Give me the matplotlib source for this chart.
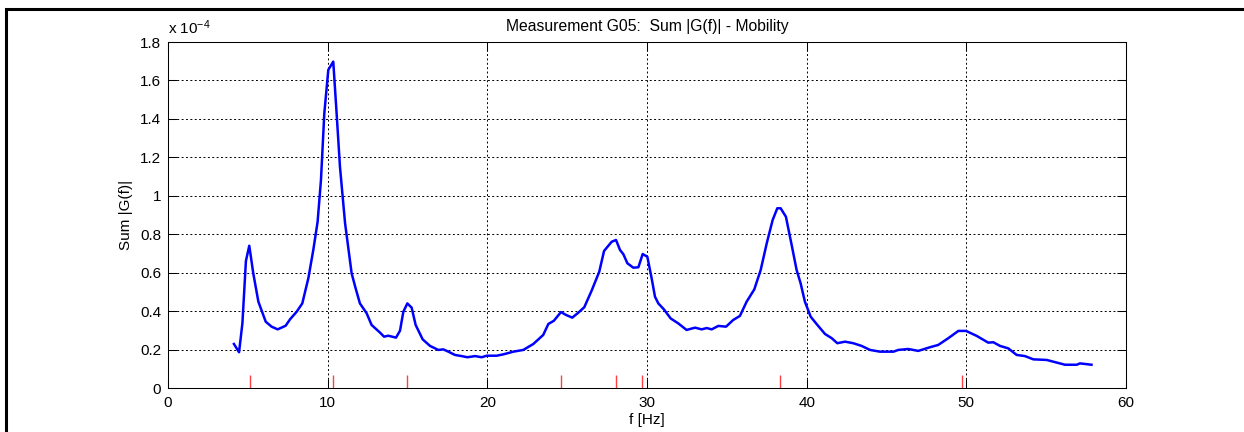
import matplotlib
matplotlib.use('Agg')
import matplotlib.pyplot as plt
from matplotlib.patches import Rectangle
from matplotlib.ticker import FuncFormatter

# frequency axis [Hz] and summed mobility magnitude (units of 1e-4)
freq = [4.13, 4.45, 4.66, 4.88, 5.09, 5.34, 5.66, 6.12, 6.49, 6.87,
        7.37, 7.64, 8.06, 8.41, 8.79, 9.10, 9.37, 9.58, 9.79, 10.04,
        10.35, 10.56, 10.77, 11.09, 11.50, 11.75, 12.02, 12.44, 12.75, 13.28,
        13.53, 13.80, 14.28, 14.53, 14.74, 14.99, 15.26, 15.51, 15.95, 16.41,
        16.93, 17.24, 17.56, 17.97, 18.39, 18.75, 19.23, 19.65, 19.96, 20.59,
        21.00, 21.63, 22.25, 22.88, 23.50, 23.82, 24.17, 24.61, 24.93, 25.32,
        25.70, 26.07, 26.53, 27.01, 27.31, 27.79, 28.06, 28.31, 28.52, 28.77,
        29.14, 29.46, 29.73, 30.02, 30.29, 30.50, 30.71, 31.06, 31.48, 31.96,
        32.48, 33.01, 33.42, 33.74, 34.05, 34.47, 34.95, 35.40, 35.82, 36.24,
        36.72, 37.12, 37.50, 37.87, 38.16, 38.37, 38.70, 39.06, 39.37, 39.62,
        39.89, 40.25, 40.67, 41.15, 41.57, 41.92, 42.40, 42.92, 43.44, 43.97,
        44.59, 45.43, 45.74, 46.36, 46.99, 47.72, 48.24, 48.87, 49.50, 49.98,
        50.65, 51.37, 51.69, 52.11, 52.63, 53.15, 53.67, 54.20, 55.03, 55.45,
        56.18, 56.91, 57.12, 57.84]
sum_g = [0.229, 0.186, 0.337, 0.661, 0.740, 0.597, 0.449, 0.345, 0.319, 0.305,
         0.324, 0.357, 0.397, 0.440, 0.571, 0.718, 0.865, 1.082, 1.429, 1.655,
         1.698, 1.429, 1.151, 0.857, 0.597, 0.519, 0.440, 0.389, 0.328, 0.288,
         0.267, 0.272, 0.262, 0.298, 0.397, 0.440, 0.418, 0.328, 0.253, 0.219,
         0.198, 0.201, 0.189, 0.172, 0.166, 0.160, 0.166, 0.160, 0.168, 0.168,
         0.175, 0.189, 0.198, 0.229, 0.276, 0.333, 0.350, 0.395, 0.380, 0.366,
         0.392, 0.420, 0.506, 0.605, 0.713, 0.761, 0.770, 0.718, 0.696, 0.649,
         0.626, 0.628, 0.697, 0.683, 0.571, 0.475, 0.440, 0.409, 0.362, 0.336,
         0.302, 0.314, 0.305, 0.312, 0.305, 0.323, 0.319, 0.354, 0.375, 0.449,
         0.513, 0.614, 0.753, 0.874, 0.935, 0.935, 0.891, 0.744, 0.614, 0.545,
         0.449, 0.371, 0.328, 0.281, 0.259, 0.233, 0.241, 0.233, 0.219, 0.198,
         0.189, 0.189, 0.198, 0.203, 0.193, 0.212, 0.224, 0.259, 0.297, 0.297,
         0.271, 0.236, 0.238, 0.219, 0.206, 0.172, 0.166, 0.149, 0.146, 0.137,
         0.121, 0.121, 0.128, 0.121]
# identified peak frequencies (red markers)
peaks = [5.13, 10.35, 14.95, 24.6, 28.07, 29.7, 38.35, 49.7]
marker_h = 0.07

SCALE = 1e-4

plt.rcParams['font.family'] = ['Liberation Sans', 'DejaVu Sans']
plt.rcParams['font.size'] = 11
plt.rcParams['mathtext.fontset'] = 'custom'
plt.rcParams['mathtext.rm'] = 'Liberation Sans'
plt.rcParams['mathtext.default'] = 'rm'

fig = plt.figure(figsize=(12.44, 4.32), dpi=100)
ax = fig.add_axes([168 / 1244, 44 / 432, 958 / 1244, 346 / 432])

ax.plot(freq, [v * SCALE for v in sum_g], color='#0000ff', lw=1.8, zorder=3)
ax.vlines(peaks, 0, marker_h * SCALE, color='#ff4040', lw=1.0, zorder=2)

ax.set_xlim(0, 60)
ax.set_ylim(0, 1.8 * SCALE)
ax.set_xticks(range(0, 61, 10))
ax.set_yticks([i * 0.2 * SCALE for i in range(10)])
ax.yaxis.set_major_formatter(FuncFormatter(lambda v, p: '%g' % round(v / SCALE, 4)))

ax.grid(True, color='black', lw=0.7, linestyle=(0, (2, 2.5)))
ax.tick_params(direction='in', length=6.5, width=0.75, top=True, right=True)
ax.tick_params(axis='x', pad=6)
ax.tick_params(axis='y', pad=5)
for s in ax.spines.values():
    s.set_linewidth(0.75)

ax.set_title('Measurement G05:  Sum |G(f)| - Mobility', fontsize=11.3, pad=8)
ax.set_xlabel('f [Hz]', labelpad=2)
ax.set_ylabel('Sum |G(f)|', labelpad=5)
ax.text(0, 1.015, r'x 10$^{-4}$', transform=ax.transAxes, ha='left', va='bottom')

# outer frame, partly outside the image
fig.patches.append(Rectangle((6 / 1244, -0.2), 1.5, 1.2 - 9 / 432, fill=False,
                             ec='black', lw=2.2, transform=fig.transFigure))

fig.savefig('out.png', dpi=100)
